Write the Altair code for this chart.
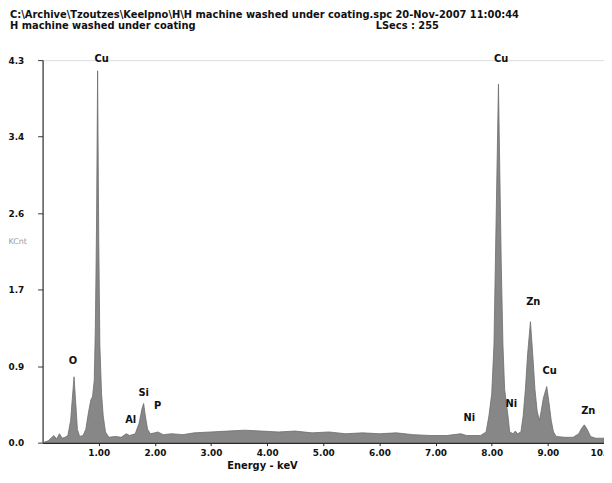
import altair as alt
import pandas as pd

# Spectrum (energy in keV, counts in KCnt)
energy = [0.00, 0.10, 0.15, 0.20, 0.25, 0.30, 0.35, 0.40, 0.45, 0.50, 0.53, 0.56, 0.59, 0.62,
          0.66, 0.72, 0.77, 0.82, 0.86, 0.89, 0.92, 0.94, 0.96, 0.98, 1.00, 1.02, 1.05, 1.08,
          1.12, 1.18, 1.30, 1.40, 1.49, 1.55, 1.65, 1.72, 1.77, 1.80, 1.83, 1.87, 1.92, 2.00,
          2.05, 2.15, 2.30, 2.50, 2.70, 3.00, 3.30, 3.60, 3.90, 4.20, 4.50, 4.80, 5.10, 5.40,
          5.70, 6.00, 6.30, 6.60, 6.90, 7.20, 7.45, 7.55, 7.80, 7.90, 7.95, 8.00, 8.04, 8.07,
          8.10, 8.12, 8.14, 8.17, 8.20, 8.23, 8.26, 8.29, 8.32, 8.38, 8.42, 8.46, 8.52, 8.56,
          8.60, 8.64, 8.69, 8.73, 8.77, 8.81, 8.85, 8.88, 8.92, 8.98, 9.02, 9.06, 9.10, 9.15,
          9.30, 9.45, 9.55, 9.60, 9.65, 9.70, 9.76, 9.85, 10.00]
counts = [0.00, 0.02, 0.05, 0.08, 0.04, 0.10, 0.05, 0.06, 0.08, 0.25, 0.50, 0.74, 0.45, 0.15,
          0.07, 0.08, 0.15, 0.35, 0.48, 0.52, 0.70, 1.30, 2.40, 4.18, 2.30, 1.10, 0.55, 0.30,
          0.12, 0.06, 0.07, 0.06, 0.10, 0.08, 0.10, 0.22, 0.38, 0.44, 0.30, 0.15, 0.10, 0.11,
          0.12, 0.09, 0.10, 0.09, 0.11, 0.12, 0.13, 0.14, 0.13, 0.12, 0.13, 0.11, 0.12, 0.10,
          0.11, 0.10, 0.11, 0.09, 0.08, 0.08, 0.10, 0.08, 0.08, 0.12, 0.30, 0.55, 1.10, 2.20,
          3.30, 4.03, 3.20, 2.00, 1.10, 0.60, 0.45, 0.30, 0.12, 0.10, 0.13, 0.10, 0.12, 0.30,
          0.60, 1.00, 1.36, 1.00, 0.60, 0.35, 0.25, 0.35, 0.50, 0.63, 0.45, 0.25, 0.12, 0.07,
          0.06, 0.06, 0.10, 0.16, 0.20, 0.15, 0.07, 0.05, 0.05]

# Peak labels
label_text = ["Cu", "O", "Al", "Si", "P", "Ni", "Cu", "Ni", "Zn", "Cu", "Zn"]
label_x = [1.05, 0.54, 1.57, 1.80, 2.05, 7.60, 8.17, 8.35, 8.74, 9.03, 9.72]
label_y = [4.31, 0.92, 0.25, 0.56, 0.41, 0.28, 4.31, 0.43, 1.58, 0.80, 0.36]

# Axis ticks
x_ticks = [1, 2, 3, 4, 5, 6, 7, 8, 9, 10]
y_ticks = [0, 0.86, 1.72, 2.58, 3.44, 4.3]

header1 = "C:\\Archive\\Tzoutzes\\Keelpno\\H\\H machine washed under coating.spc  20-Nov-2007 11:00:44"
header2 = "H machine washed under coating"
header3 = "LSecs : 255"

FONT = "DejaVu Sans"

spec = pd.DataFrame({"energy": energy, "counts": counts})
labels = pd.DataFrame({"text": label_text, "x": label_x, "y": label_y})

xscale = alt.Scale(domain=[0, 10], nice=False)
yscale = alt.Scale(domain=[0, 4.3], nice=False)

area = alt.Chart(spec).mark_area(
    color="#878787", stroke="#6c6c6c", strokeWidth=0.8, interpolate="linear"
).encode(
    x=alt.X("energy:Q", scale=xscale,
            axis=alt.Axis(values=x_ticks, format=".2f", grid=False, tickSize=3,
                          labelFont=FONT, labelFontSize=9, labelFontWeight="bold",
                          labelColor="#111", labelPadding=3, labelFlush=False,
                          domainColor="#222", domainWidth=2, tickColor="#222",
                          title="Energy - keV", titleFont=FONT, titleFontSize=10,
                          titleFontWeight="bold", titleColor="#111",
                          titleBaseline="middle", titleX=222, titleY=23)),
    y=alt.Y("counts:Q", scale=yscale,
            axis=alt.Axis(values=y_ticks, format=".1f", grid=False, tickSize=5,
                          labelFont=FONT, labelFontSize=9, labelFontWeight="bold",
                          labelColor="#111", labelAlign="left", labelPadding=30,
                          domainColor="#333", domainWidth=1.2, tickColor="#333",
                          title="KCnt", titleFont=FONT, titleFontSize=8,
                          titleFontWeight="normal", titleColor="#999", titleAngle=0,
                          titleAlign="left", titleBaseline="middle",
                          titleX=-35, titleY=184)),
)

text = alt.Chart(labels).mark_text(
    font=FONT, fontSize=10, fontWeight="bold", color="#111", baseline="middle"
).encode(
    x=alt.X("x:Q", scale=xscale),
    y=alt.Y("y:Q", scale=yscale),
    text="text:N",
)

def header(t, xv, yv):
    return alt.Chart(alt.Data(values=[{}])).mark_text(
        font=FONT, fontSize=10, fontWeight="bold", color="#111",
        align="left", baseline="middle"
    ).encode(x=alt.value(xv), y=alt.value(yv), text=alt.value(t))

chart = alt.layer(
    area, text,
    header(header1, -33, -46),
    header(header2, -33, -34),
    header(header3, 337, -34),
).properties(
    width=568, height=387,
    autosize=alt.AutoSizeParams(type="none"),
    padding={"left": 35, "top": 50, "right": 0, "bottom": 30},
).configure_view(stroke=None).configure(background="white")

chart.save("out.html", embed_options={"renderer": "svg", "actions": False})
